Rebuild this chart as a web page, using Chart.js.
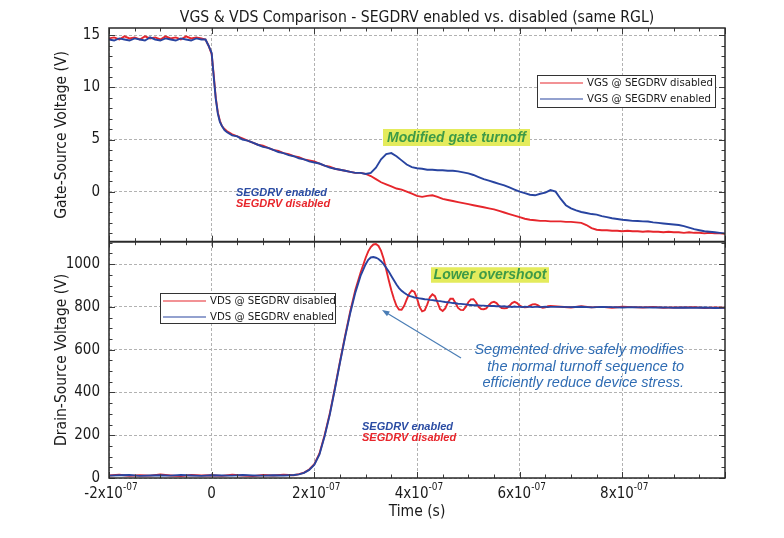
<!DOCTYPE html>
<html><head><meta charset="utf-8">
<script src="https://cdn.jsdelivr.net/npm/chart.js@4.4.1/dist/chart.umd.min.js"></script>
<style>html,body{margin:0;padding:0;background:#fff;}canvas{display:block;}</style>
</head><body>
<canvas id="c" width="784" height="538"></canvas>
<script>
// ---------- data (time in ns) ----------
const vgsTimeNs = [-200,-190,-180,-170,-160,-150,-140,-130,-120,-110,-100,-90,-80,-70,-60,-50,-40,-30,-20,
  -12,-6,0,4,8,12,16,20,25,30,
  40,50,60,70,80,90,100,110,120,130,140,150,160,170,180,190,200,210,220,230,240,250,260,270,280,290,300,
  310,320,330,340,350,360,370,380,390,400,410,420,430,440,450,460,470,480,490,500,510,520,530,540,550,560,570,580,590,600,610,620,
  630,640,650,660,670,680,690,700,710,720,730,740,750,760,770,780,790,800,810,820,830,840,850,860,870,880,890,900,910,920,930,940,950,960,970,980,990,1000];
const vgsDisabled = [14.7,14.8,14.6,14.9,14.7,14.8,14.6,14.9,14.7,14.8,14.6,14.9,14.7,14.8,14.6,14.9,14.7,14.8,14.7,
  14.6,14.0,13.2,11.2,9.0,7.6,6.8,6.3,6.0,5.8,
  5.5,5.3,5.1,4.9,4.7,4.5,4.4,4.2,4.0,3.9,3.7,3.6,3.4,3.3,3.1,3.0,2.9,2.7,2.5,2.4,2.2,2.1,2.0,1.9,1.8,1.8,1.7,
  1.5,1.2,0.9,0.7,0.5,0.3,0.2,0.0,-0.2,-0.4,-0.5,-0.4,-0.35,-0.5,-0.7,-0.8,-0.9,-1.0,-1.1,-1.2,-1.3,-1.4,-1.5,-1.6,-1.7,-1.85,-2.0,-2.15,-2.3,-2.45,-2.6,-2.7,
  -2.75,-2.8,-2.8,-2.85,-2.85,-2.85,-2.9,-2.9,-2.95,-3.0,-3.2,-3.5,-3.65,-3.7,-3.7,-3.75,-3.75,-3.8,-3.75,-3.8,-3.8,-3.85,-3.8,-3.85,-3.85,-3.9,-3.85,-3.9,-3.9,-3.95,-3.9,-3.95,-3.95,-4.0,-3.95,-4.0,-4.0,-4.05];
const vgsEnabled = [14.6,14.5,14.7,14.6,14.5,14.7,14.6,14.5,14.8,14.6,14.5,14.7,14.6,14.5,14.7,14.6,14.5,14.7,14.6,
  14.6,14.0,13.3,11.0,8.9,7.5,6.7,6.3,5.9,5.7,
  5.4,5.3,5.0,4.9,4.7,4.5,4.3,4.2,4.0,3.8,3.7,3.5,3.4,3.2,3.1,2.9,2.8,2.7,2.5,2.3,2.2,2.1,2.0,1.9,1.8,1.8,1.7,
  1.8,2.3,3.1,3.6,3.7,3.4,3.0,2.6,2.35,2.25,2.2,2.1,2.1,2.05,2.05,2.0,2.0,1.95,1.85,1.75,1.6,1.4,1.2,1.05,0.9,0.75,0.6,0.4,0.2,0.0,-0.15,-0.3,
  -0.35,-0.2,-0.1,0.15,0.0,-0.7,-1.3,-1.6,-1.8,-1.95,-2.05,-2.15,-2.2,-2.35,-2.45,-2.55,-2.62,-2.7,-2.75,-2.8,-2.82,-2.85,-2.87,-2.95,-3.0,-3.05,-3.1,-3.15,-3.2,-3.3,-3.45,-3.6,-3.7,-3.8,-3.85,-3.9,-3.95,-4.0];

const vdsTimeNs = [-200,-180,-160,-140,-120,-100,-80,-60,-40,-20,0,20,40,60,80,100,120,140,160,
  170,180,190,200,210,220,230,240,250,260,270,280,290,300,305,310,
  315,320,325,330,335,340,345,350,355,360,365,370,375,380,385,390,395,400,405,410,415,420,425,430,435,440,445,450,455,460,
  465,470,475,480,485,490,495,500,505,510,515,520,525,530,535,540,545,550,555,560,565,570,575,580,585,590,595,600,605,610,
  615,620,625,630,635,640,645,650,655,660,
  680,700,720,740,760,780,800,820,840,860,880,900,920,940,960,980,1000];
const vdsDisabled = [12,15,10,13,11,16,12,9,14,12,13,10,15,12,9,14,12,15,13,
  18,25,40,65,115,200,300,420,545,665,780,880,960,1030,1060,1080,
  1092,1094,1085,1062,1025,975,925,878,838,805,788,787,805,835,862,877,870,840,800,779,
  784,812,845,859,850,820,790,781,793,820,838,838,818,795,786,785,800,822,835,836,
  822,800,790,789,793,808,820,824,818,804,795,793,795,805,818,824,818,806,800,798,
  799,806,812,813,808,800,796,798,803,805,
  801,797,803,798,800,796,801,799,797,800,796,798,797,799,795,797,796];
const vdsEnabled = [11,13,14,10,12,13,11,14,12,10,13,12,11,14,12,11,13,12,14,
  17,24,38,62,110,195,295,415,540,660,772,868,945,1000,1020,1031,
  1033,1030,1024,1014,1000,983,965,945,925,905,888,875,866,858,852,848,844,842,840,838,
  836,835,833,832,830,828,827,825,823,822,820,818,817,815,814,813,812,810,809,808,
  808,807,806,806,805,805,804,804,803,803,802,803,801,802,800,802,800,801,799,801,
  800,801,799,800,801,799,800,801,799,800,
  800,799,801,798,800,799,797,799,798,797,798,796,797,796,797,795,796];

const xTickValues = [-200, 0, 200, 400, 600, 800];
const xTickMantissa = ['-2x10', '0', '2x10', '4x10', '6x10', '8x10'];
const xTickExponent = ['-07', '', '-07', '-07', '-07', '-07'];
const vgsTicks = [0, 5, 10, 15];
const vdsTicks = [0, 200, 400, 600, 800, 1000];

const titleText = 'VGS & VDS Comparison - SEGDRV enabled vs. disabled (same RGL)';
const seriesLabels = ['VGS @ SEGDRV disabled', 'VGS @ SEGDRV enabled', 'VDS @ SEGDRV disabled', 'VDS @ SEGDRV enabled'];
const calloutLines = ['Segmented drive safely modifies', 'the normal turnoff sequence to', 'efficiently reduce device stress.'];

// ---------- styles ----------
const FONT = "'DejaVu Sans Condensed', 'DejaVu Sans', sans-serif";
const AFONT = "'Liberation Sans', Arial, sans-serif";
const RED = 'rgb(230,38,44)';
const BLUE = 'rgb(40,68,160)';
const GRID = '#b2b2b2';

const pts = (t, v) => t.map((x, i) => ({x: x, y: v[i]}));

const overlay = {
  id: 'overlay',
  afterDraw(chart) {
    const {ctx, chartArea: a, scales} = chart;
    const xs = scales.x, yt = scales.yTop, yb = scales.yBot;
    const seg = (x1, y1, x2, y2) => { ctx.beginPath(); ctx.moveTo(x1, y1); ctx.lineTo(x2, y2); ctx.stroke(); };
    ctx.save();
    // title centred over the plot area
    ctx.fillStyle = '#1a1a1a'; ctx.font = '15.6px ' + FONT; ctx.textAlign = 'center'; ctx.textBaseline = 'middle';
    ctx.fillText(titleText, (a.left + a.right) / 2, 18);
    // inward tick marks
    ctx.strokeStyle = '#3a3a3a'; ctx.lineWidth = 1;
    for (let t = -200; t <= 1000; t += 50) {
      const px = Math.round(xs.getPixelForValue(t)) + 0.5;
      const L = (t % 200 === 0) ? 6 : 3.5;
      for (const p of [yt, yb]) { seg(px, p.top, px, p.top + L); seg(px, p.bottom, px, p.bottom - L); }
    }
    for (const [s, lo, hi, step, major] of [[yt, -4, 15, 1, 5], [yb, 0, 1100, 50, 200]]) {
      for (let v = lo; v <= hi; v += step) {
        const py = Math.round(s.getPixelForValue(v)) + 0.5;
        const L = (v % major === 0) ? 6 : 3.5;
        seg(a.left, py, a.left + L, py); seg(a.right, py, a.right - L, py);
      }
    }
    // frame
    ctx.lineWidth = 1.5; ctx.strokeStyle = '#2a2a2a';
    ctx.strokeRect(a.left, a.top, a.right - a.left, a.bottom - a.top);
    ctx.lineWidth = 2; seg(a.left, yt.bottom, a.right, yt.bottom);

    // x tick labels with superscript exponent
    ctx.fillStyle = '#1a1a1a'; ctx.textBaseline = 'middle'; ctx.textAlign = 'left';
    xTickValues.forEach((v, i) => {
      const px = xs.getPixelForValue(v);
      ctx.font = '15px ' + FONT; const w1 = ctx.measureText(xTickMantissa[i]).width;
      ctx.font = '10px ' + FONT; const w2 = xTickExponent[i] ? ctx.measureText(xTickExponent[i]).width : 0;
      const x0 = px - (w1 + w2) / 2 + (w2 ? 2 : 0);
      ctx.font = '15px ' + FONT; ctx.fillText(xTickMantissa[i], x0, a.bottom + 16);
      if (w2) { ctx.font = '10px ' + FONT; ctx.fillText(xTickExponent[i], x0 + w1, a.bottom + 9); }
    });

    // legends
    const legend = (x, y, w, h, labels) => {
      ctx.fillStyle = '#fff'; ctx.fillRect(x, y, w, h);
      ctx.strokeStyle = '#333'; ctx.lineWidth = 1; ctx.strokeRect(x + 0.5, y + 0.5, w, h);
      [RED, BLUE].forEach((c, k) => {
        const yy = y + 8 + k * 16;
        ctx.strokeStyle = c; ctx.lineWidth = 1.2; seg(x + 3, yy, x + 46, yy);
        ctx.fillStyle = '#1a1a1a'; ctx.font = '11.3px ' + FONT; ctx.textAlign = 'left';
        ctx.fillText(labels[k], x + 50, yy + 0.5);
      });
    };
    legend(537, 75, 178, 32, [seriesLabels[0], seriesLabels[1]]);
    legend(160, 293, 175, 30, [seriesLabels[2], seriesLabels[3]]);

    // highlighted notes
    const note = (text, cx, cy, w, h) => {
      ctx.fillStyle = '#e4eb5c'; ctx.fillRect(cx - w / 2, cy - h / 2, w, h);
      ctx.fillStyle = '#3d9a47'; ctx.font = 'italic bold 14px ' + AFONT; ctx.textAlign = 'center';
      ctx.fillText(text, cx, cy + 0.5);
    };
    note('Modified gate turnoff', 456.5, 137.5, 147, 17);
    note('Lower overshoot', 490, 275, 118, 15.5);

    // series tags
    const tags = (x, y) => {
      ctx.font = 'italic bold 11px ' + AFONT; ctx.textAlign = 'left';
      ctx.fillStyle = '#2b4ca3'; ctx.fillText('SEGDRV enabled', x, y);
      ctx.fillStyle = '#e8262c'; ctx.fillText('SEGDRV disabled', x, y + 11);
    };
    tags(236, 192.5);
    tags(362, 427);

    // callout
    ctx.fillStyle = '#2f6cb3'; ctx.font = 'italic 14.5px ' + AFONT; ctx.textAlign = 'right';
    calloutLines.forEach((l, k) => ctx.fillText(l, 684, 350 + k * 16.5));
    // arrow
    const ax1 = 461, ay1 = 358, ax2 = 382, ay2 = 310;
    ctx.strokeStyle = '#4a7db5'; ctx.fillStyle = '#4a7db5'; ctx.lineWidth = 1.2;
    seg(ax1, ay1, ax2 + 4, ay2 + 2.5);
    const ang = Math.atan2(ay1 - ay2, ax1 - ax2);
    ctx.beginPath(); ctx.moveTo(ax2, ay2);
    ctx.lineTo(ax2 + 8 * Math.cos(ang - 0.35), ay2 + 8 * Math.sin(ang - 0.35));
    ctx.lineTo(ax2 + 8 * Math.cos(ang + 0.35), ay2 + 8 * Math.sin(ang + 0.35));
    ctx.closePath(); ctx.fill();
    ctx.restore();
  }
};

const line = (label, t, v, color, axis) => ({
  label: label, data: pts(t, v), yAxisID: axis, borderColor: color, backgroundColor: color,
  borderWidth: 1.9, pointRadius: 0, tension: 0, fill: false
});

new Chart(document.getElementById('c').getContext('2d'), {
  type: 'line',
  data: {
    datasets: [
      line(seriesLabels[1], vgsTimeNs, vgsEnabled, BLUE, 'yTop'),
      line(seriesLabels[3], vdsTimeNs, vdsEnabled, BLUE, 'yBot'),
      line(seriesLabels[0], vgsTimeNs, vgsDisabled, RED, 'yTop'),
      line(seriesLabels[2], vdsTimeNs, vdsDisabled, RED, 'yBot')
    ]
  },
  options: {
    responsive: false, animation: false, devicePixelRatio: 1,
    layout: {padding: {left: 0, right: 59, top: 28, bottom: 0}},
    plugins: {
      legend: {display: false}, tooltip: {enabled: false}, title: {display: false}
    },
    scales: {
      x: {
        type: 'linear', min: -200, max: 1000,
        afterBuildTicks: s => { s.ticks = xTickValues.map(v => ({value: v})); },
        afterFit: s => { s.height = 60; },
        ticks: {display: false},
        grid: {color: GRID, lineWidth: 1, drawTicks: false},
        border: {display: false, dash: [3, 2]},
        title: {display: true, text: 'Time (s)', color: '#1a1a1a', font: {family: FONT, size: 15.5}, padding: {top: 0, bottom: 17}}
      },
      yBot: {
        type: 'linear', position: 'left', stack: 'v', stackWeight: 236, min: 0, max: 1105,
        afterBuildTicks: s => { s.ticks = vdsTicks.map(v => ({value: v})); },
        afterFit: s => { s.width = 109; },
        ticks: {autoSkip: false, padding: 9, color: '#1a1a1a', font: {family: FONT, size: 15}, callback: v => String(v)},
        grid: {color: GRID, lineWidth: 1, drawTicks: false},
        border: {display: false, dash: [3, 2]},
        title: {display: true, text: 'Drain-Source Voltage (V)', color: '#1a1a1a', font: {family: FONT, size: 15.5}, padding: {top: 53, bottom: 0}}
      },
      yTop: {
        type: 'linear', position: 'left', stack: 'v', stackWeight: 213.4, min: -4.8, max: 15.7,
        afterBuildTicks: s => { s.ticks = vgsTicks.map(v => ({value: v})); },
        afterFit: s => { s.width = 109; },
        ticks: {autoSkip: false, padding: 9, color: '#1a1a1a', font: {family: FONT, size: 15}, callback: v => String(v)},
        grid: {color: GRID, lineWidth: 1, drawTicks: false},
        border: {display: false, dash: [3, 2]},
        title: {display: true, text: 'Gate-Source Voltage (V)', color: '#1a1a1a', font: {family: FONT, size: 15.5}, padding: {top: 53, bottom: 0}}
      }
    }
  },
  plugins: [overlay]
});
</script>
</body></html>
